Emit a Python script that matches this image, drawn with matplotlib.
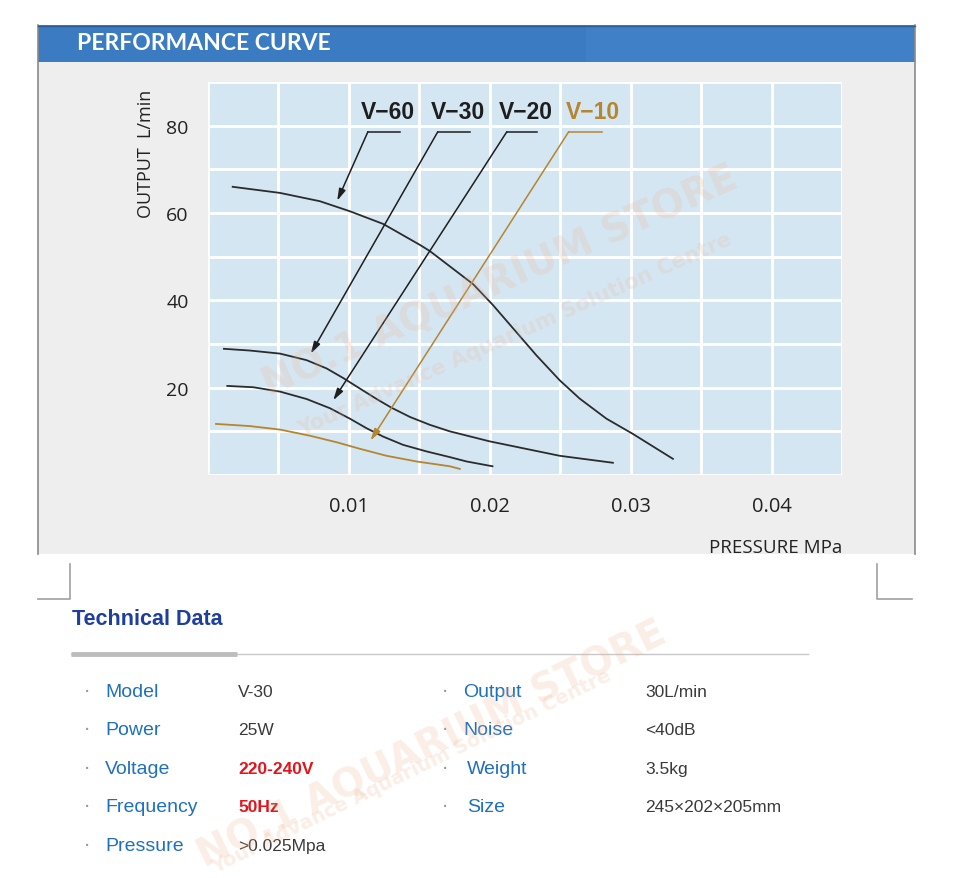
#!/usr/bin/env python
"""
Performance curve + technical data card for the V-series air pumps
"""

import numpy as np
import matplotlib
matplotlib.use("Agg")
import matplotlib.pyplot as plt
from matplotlib import font_manager

# Curve data (pressure MPa, output L/min)
v60_x = [0.00175, 0.00511, 0.00794, 0.01007, 0.01243, 0.01504, 0.01574, 0.01882,
         0.02023, 0.02165, 0.02331, 0.02496, 0.02638, 0.02828, 0.03016, 0.0330]
v60_y = [66.0, 64.6, 62.7, 60.4, 57.5, 52.7, 51.3, 43.7,
         38.9, 33.6, 27.4, 21.7, 17.5, 12.9, 9.4, 3.7]

v30_x = [0.00113, 0.00298, 0.00511, 0.0070, 0.00842, 0.0096, 0.01078, 0.01197,
         0.01303, 0.01433, 0.01574, 0.01716, 0.0200, 0.02496, 0.02874]
v30_y = [28.9, 28.5, 27.8, 26.3, 24.4, 22.2, 19.8, 17.4,
         15.4, 13.3, 11.5, 10.0, 7.7, 4.4, 2.8]

v20_x = [0.00137, 0.00321, 0.00511, 0.0070, 0.00865, 0.01007, 0.01126, 0.01243,
         0.01385, 0.01551, 0.01716, 0.01835, 0.02019]
v20_y = [20.4, 20.1, 19.1, 17.4, 15.3, 12.9, 10.7, 8.8,
         6.9, 5.4, 4.1, 3.1, 2.0]

v10_x = [0.00057, 0.00298, 0.00511, 0.00723, 0.00913, 0.01078, 0.01267, 0.0148,
         0.01716, 0.01787]
v10_y = [11.7, 11.2, 10.4, 9.0, 7.5, 6.0, 4.4, 3.1, 2.0, 1.4]

models = ["V\u221260", "V\u221230", "V\u221220", "V\u221210"]
label_x = [0.01277, 0.01773, 0.02255, 0.02730]
label_y = 83.2
# leader lines: end of horizontal bar, knee, arrow tip
leader_end = [0.01362, 0.01858, 0.02333, 0.02794]
leader_knee = [0.01135, 0.01631, 0.02121, 0.02560]
leader_y = 78.6
tip_x = [0.00917, 0.00730, 0.00889, 0.01154]
tip_y = [62.8, 27.8, 17.1, 7.9]

x_ticks = [0.01, 0.02, 0.03, 0.04]
y_ticks = [20, 40, 60, 80]

# technical data table
left_keys = ["Model", "Power", "Voltage", "Frequency", "Pressure"]
left_vals = ["V-30", "25W", "220-240V", "50Hz", ">0.025Mpa"]
right_keys = ["Output", "Noise", "Weight", "Size"]
right_vals = ["30L/min", "<40dB", "3.5kg", "245\u00d7202\u00d7205mm"]
red_vals = ["220-240V", "50Hz"]

DARK = "#2b2b2b"
GOLD = "#b5852f"

installed = {f.name for f in font_manager.fontManager.ttflist}
NARROW = "Liberation Sans Narrow" if "Liberation Sans Narrow" in installed else "Liberation Sans"

fig = plt.figure(figsize=(9.6, 8.79), dpi=100)

# background canvas in pixel coords
bg = fig.add_axes([0, 0, 1, 1], zorder=0)
bg.set_xlim(0, 960)
bg.set_ylim(879, 0)
bg.axis("off")

bg.add_patch(plt.Rectangle((38, 63), 877, 492, color="#eeeeef", lw=0))
bg.plot([38, 38], [26, 555], color="#8a8a8a", lw=1.2)
bg.plot([915, 915], [26, 555], color="#8a8a8a", lw=1.2)
bg.add_patch(plt.Rectangle((38, 26), 877, 37, color="#3f80c6", lw=0))
bg.add_patch(plt.Rectangle((38, 26), 548, 37, color="#3b7bc2", lw=0))
bg.plot([38, 915], [26.5, 26.5], color="#2a5d9a", lw=1)
bg.text(77, 44, "PERFORMANCE CURVE", color="white", fontsize=16.5,
        fontweight="bold", family="Lato", va="center", ha="left")

# corner marks
bg.plot([70, 70, 38], [565, 600, 600], color="#a0a0a0", lw=1.2)
bg.plot([877, 877, 912], [565, 600, 600], color="#a0a0a0", lw=1.2)

# technical data
bg.text(72, 620, "Technical Data", color="#1f3f9f", fontsize=15.5,
        fontweight="bold", family=NARROW, va="center", ha="left")
bg.plot([71, 808], [655, 655], color="#c8c8c8", lw=1)
bg.plot([71, 237], [655, 655], color="#bdbdbd", lw=3.5, solid_capstyle="butt")

row_y = [693, 731, 770, 808, 847]
for i, (k, v) in enumerate(zip(left_keys, left_vals)):
    y = row_y[i]
    bg.text(87, y, "\u00b7", color="#999999", fontsize=14, va="center", ha="center")
    bg.text(105, y, k, color="#1f6fc2", fontsize=14, family=NARROW, va="center")
    red = v in red_vals
    bg.text(238, y, v, color="#e3141b" if red else "#3a3a3a", fontsize=12.5,
            fontweight="bold" if red else "normal", family=NARROW, va="center")
for i, (k, v) in enumerate(zip(right_keys, right_vals)):
    y = row_y[i]
    bg.text(445, y, "\u00b7", color="#999999", fontsize=14, va="center", ha="center")
    bg.text(463 if i < 2 else 467, y, k, color="#1f6fc2", fontsize=14,
            family=NARROW, va="center")
    bg.text(645, y, v, color="#3a3a3a", fontsize=12.5, family=NARROW, va="center")

# chart
ax = fig.add_axes([208 / 960, 1 - 476 / 879, 634 / 960, 393 / 879], zorder=2)
ax.set_facecolor("#d5e6f3")
ax.set_xlim(0, 0.045)
ax.set_ylim(0, 90)
for s in ax.spines.values():
    s.set_visible(False)
ax.set_xticks(x_ticks)
ax.set_xticklabels(["%.2f" % t for t in x_ticks], family="Open Sans", fontsize=14.5, color="#222222")
ax.set_xticks(np.arange(0, 0.0451, 0.005), minor=True)
ax.set_yticks(y_ticks)
ax.set_yticklabels([str(t) for t in y_ticks], family="Open Sans", fontsize=14, color="#222222")
ax.set_yticks(np.arange(0, 91, 10), minor=True)
ax.tick_params(which="both", length=0)
ax.tick_params(axis="x", pad=15)
ax.tick_params(axis="y", pad=14)
ax.grid(True, which="both", color="white", lw=2)
ax.set_axisbelow(True)

ax.set_ylabel("OUTPUT  L/min", family="Open Sans", fontsize=13, color="#222222")
ax.yaxis.set_label_coords(-0.083, 0.82)
ax.set_xlabel("PRESSURE MPa", family="Open Sans", fontsize=13.5, color="#222222")
ax.xaxis.set_label_coords(0.895, -0.16)

ax.plot(v60_x, v60_y, color=DARK, lw=1.3)
ax.plot(v30_x, v30_y, color=DARK, lw=1.3)
ax.plot(v20_x, v20_y, color=DARK, lw=1.3)
ax.plot(v10_x, v10_y, color=GOLD, lw=1.3)

for i, name in enumerate(models):
    c = GOLD if i == 3 else "#1e1e1e"
    ax.text(label_x[i], label_y, name, color=c, fontsize=16.5, fontweight="bold",
            family="Liberation Sans", ha="center", va="center")
    ax.plot([leader_knee[i], leader_end[i]], [leader_y, leader_y], color=c, lw=1.1)
    ax.annotate("", xy=(tip_x[i], tip_y[i]), xytext=(leader_knee[i], leader_y),
                arrowprops=dict(arrowstyle="-|>,head_length=0.7,head_width=0.2",
                                color=c, lw=1.1, shrinkA=0, shrinkB=0))

# watermarks
wm = dict(color="#e9b48c", alpha=0.22, fontweight="bold", family="DejaVu Sans",
          ha="center", va="center", rotation_mode="anchor", zorder=5)
bg2 = fig.add_axes([0, 0, 1, 1], zorder=5)
bg2.set_xlim(0, 960)
bg2.set_ylim(879, 0)
bg2.axis("off")
bg2.text(500, 282, "NO.1 AQUARIUM STORE", fontsize=28, rotation=24, **wm)
bg2.text(515, 335, "Your Advance Aquarium Solution Centre", fontsize=15, rotation=24, **wm)
bg2.text(432, 745, "NO.1 AQUARIUM STORE", fontsize=28, rotation=26, **wm)
bg2.text(412, 772, "Your Advance Aquarium Solution Centre", fontsize=14, rotation=26, **wm)

fig.savefig("out.png", dpi=100, facecolor="white")
